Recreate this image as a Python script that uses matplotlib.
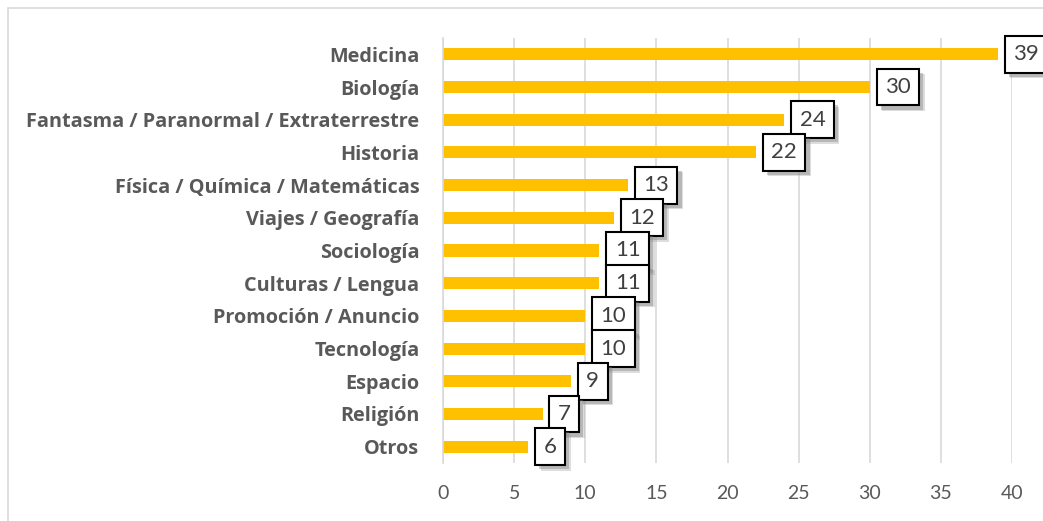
"""
Horizontal bar chart of topics with boxed value labels.
"""

import matplotlib
matplotlib.use("Agg")
import matplotlib.pyplot as plt
import matplotlib.patheffects as pe
from matplotlib.patches import Rectangle

categories = [
    "Medicina", "Biología", "Fantasma / Paranormal / Extraterrestre", "Historia",
    "Física / Química / Matemáticas", "Viajes / Geografía", "Sociología",
    "Culturas / Lengua", "Promoción / Anuncio", "Tecnología", "Espacio",
    "Religión", "Otros",
]
values = [39, 30, 24, 22, 13, 12, 11, 11, 10, 10, 9, 7, 6]
x_ticks = [0, 5, 10, 15, 20, 25, 30, 35, 40]

TEXT_GRAY = "#595959"
GRID_GRAY = "#d9d9d9"
BAR_COLOR = "#FFC000"

plt.rcParams["font.family"] = ["Lato", "DejaVu Sans"]

fig = plt.figure(figsize=(10.43, 5.21), dpi=100)
ax = fig.add_axes([443 / 1043, 1 - 463 / 521, (1012 - 443) / 1043, (463 - 38) / 521])

# outer chart border
fig.patches.append(Rectangle((8 / 1043, -0.05), 1.1, 1 - 8 / 521 + 0.05,
                             transform=fig.transFigure, fill=False,
                             edgecolor=GRID_GRAY, lw=1.2, zorder=0))

# 1. Bars (top category first)
y_pos = list(range(len(categories)))
ax.barh(y_pos, values, height=0.37, color=BAR_COLOR, zorder=2)
ax.set_ylim(len(categories) - 0.5, -0.5)
ax.set_xlim(0, 40)

# 2. Axes styling
ax.set_xticks(x_ticks)
ax.set_xticklabels([str(t) for t in x_ticks], fontsize=14, color=TEXT_GRAY)
ax.set_yticks(y_pos)
ax.set_yticklabels(categories, fontsize=14.3, fontweight="bold", color=TEXT_GRAY,
                   family=["Open Sans", "DejaVu Sans"])
ax.tick_params(axis="x", length=0, pad=16)
ax.tick_params(axis="y", length=0, pad=17)
ax.grid(axis="x", color=GRID_GRAY, lw=1.2, zorder=0)
ax.set_axisbelow(True)
for side in ["top", "right", "bottom"]:
    ax.spines[side].set_visible(False)
ax.spines["left"].set_color(GRID_GRAY)
ax.spines["left"].set_linewidth(1.2)

# 3. Boxed value labels with soft shadow
for y, v in zip(y_pos, values):
    t = ax.annotate(
        str(v), xy=(v, y), xytext=(11, 0), textcoords="offset points",
        ha="left", va="center", fontsize=16, color="#404040",
        bbox=dict(boxstyle="square,pad=0.38", facecolor="white",
                  edgecolor="black", lw=1.5),
        annotation_clip=False, zorder=5,
    )
    t.get_bbox_patch().set_path_effects([
        pe.SimplePatchShadow(offset=(4, -4), shadow_rgbFace="#a0a0a0", alpha=0.35),
        pe.SimplePatchShadow(offset=(3, -3), shadow_rgbFace="#808080", alpha=0.4),
        pe.Normal(),
    ])

fig.savefig("out.png", dpi=100)
